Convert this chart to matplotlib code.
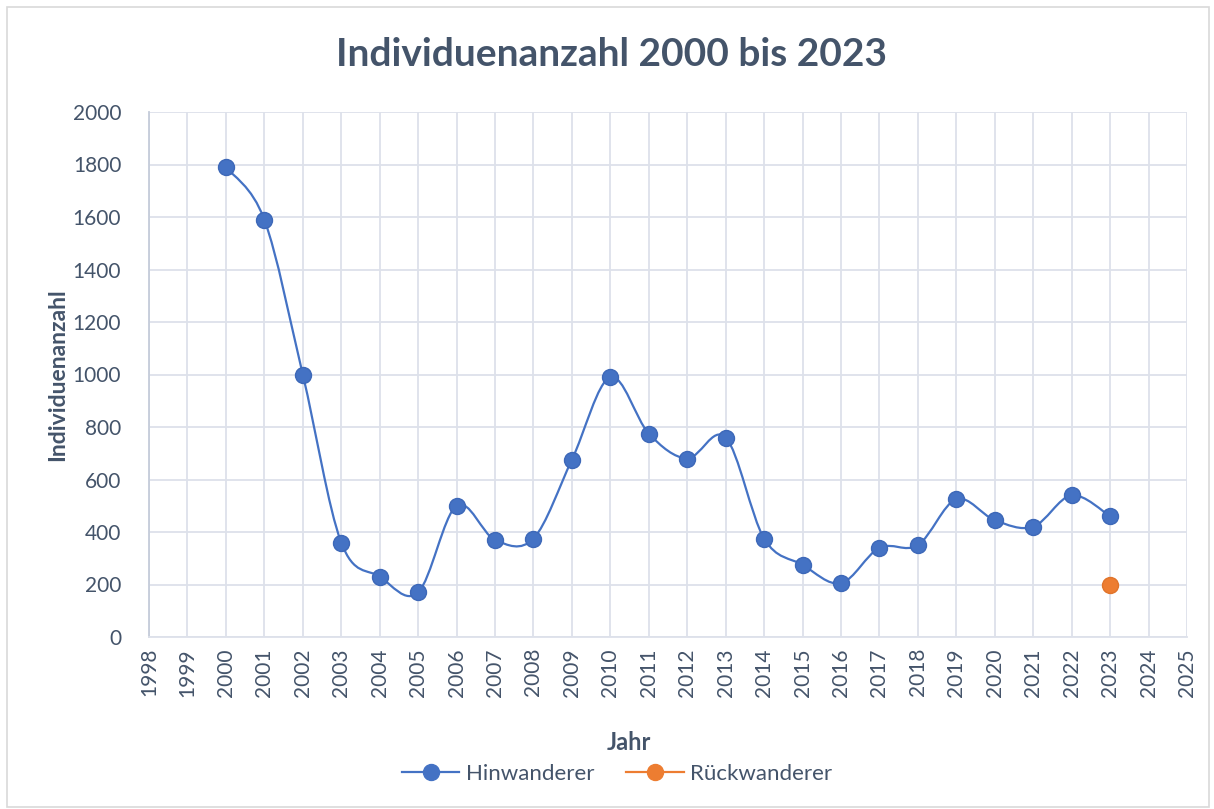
import numpy as np
import matplotlib
matplotlib.use('Agg')
import matplotlib.pyplot as plt
from matplotlib.path import Path
from matplotlib.patches import PathPatch, Rectangle
from matplotlib.lines import Line2D

plt.rcParams['font.family'] = ['Lato', 'DejaVu Sans']

# --- Daten ---
jahre = [2000, 2001, 2002, 2003, 2004, 2005, 2006, 2007, 2008, 2009, 2010, 2011,
         2012, 2013, 2014, 2015, 2016, 2017, 2018, 2019, 2020, 2021, 2022, 2023]
hinwanderer = [1790, 1590, 1000, 360, 230, 170, 500, 370, 375, 675, 990, 775,
               680, 760, 375, 275, 205, 340, 350, 525, 445, 420, 540, 460]
rueck_jahre = [2023]
rueckwanderer = [200]

text_col = '#44546A'
grid_col = '#DDE1EA'
blau = '#4472C4'
orange = '#ED7D31'


def smooth_path(x, y):
    # Excel-artige Glaettung (Catmull-Rom als Bezier-Kurven)
    x = np.asarray(x, float)
    y = np.asarray(y, float)
    n = len(x)
    verts = [(x[0], y[0])]
    codes = [Path.MOVETO]
    for i in range(n - 1):
        x0, y0 = (x[i - 1], y[i - 1]) if i > 0 else (x[i], y[i])
        x3, y3 = (x[i + 2], y[i + 2]) if i + 2 < n else (x[i + 1], y[i + 1])
        c1 = (x[i] + (x[i + 1] - x0) / 6, y[i] + (y[i + 1] - y0) / 6)
        c2 = (x[i + 1] - (x3 - x[i]) / 6, y[i + 1] - (y3 - y[i]) / 6)
        verts += [c1, c2, (x[i + 1], y[i + 1])]
        codes += [Path.CURVE4] * 3
    return Path(verts, codes)


fig = plt.figure(figsize=(12.14, 8.09), dpi=100)
ax = fig.add_axes([149 / 1214, 1 - 637 / 809, (1187 - 149) / 1214, (637 - 112) / 809])

# Rahmen der Diagrammflaeche
fig.patches.append(Rectangle((7 / 1214, 2 / 809), 1202 / 1214, 800 / 809,
                             transform=fig.transFigure, fill=False,
                             edgecolor='#D9D9D9', linewidth=1.2))

ax.add_patch(PathPatch(smooth_path(jahre, hinwanderer), fill=False,
                       edgecolor=blau, linewidth=1.6, zorder=3))
ax.plot(jahre, hinwanderer, linestyle='none', marker='o', markersize=11.5,
        color=blau, markeredgecolor='#3D68B8', zorder=4)
ax.plot(rueck_jahre, rueckwanderer, linestyle='none', marker='o', markersize=11.5,
        color=orange, markeredgecolor='#E0742B', zorder=4)

ax.set_xlim(1998, 2025)
ax.set_ylim(0, 2000)
ax.set_xticks(range(1998, 2026))
ax.set_yticks(range(0, 2001, 200))
ax.tick_params(axis='x', labelrotation=90, length=0, pad=8, labelsize=15, colors=text_col)
ax.tick_params(axis='y', length=0, pad=20, labelsize=15, colors=text_col)
ax.grid(True, color=grid_col, linewidth=1.3)
ax.set_axisbelow(True)
for s in ['top', 'right']:
    ax.spines[s].set_visible(False)
ax.spines['left'].set_color('#C5CCDA')
ax.spines['left'].set_linewidth(1.3)
ax.spines['bottom'].set_color(grid_col)
ax.spines['bottom'].set_linewidth(1.3)

fig.text(612 / 1214, 1 - 55 / 809, 'Individuenanzahl 2000 bis 2023', ha='center', va='center',
         fontsize=28, fontweight='bold', color=text_col)
fig.text(58 / 1214, 1 - 375 / 809, 'Individuenanzahl', ha='center', va='center', rotation=90,
         fontsize=16.5, fontweight='bold', color=text_col)
fig.text(629 / 1214, 1 - 743 / 809, 'Jahr', ha='center', va='center',
         fontsize=17, fontweight='bold', color=text_col)

handles = [Line2D([], [], color=blau, linewidth=1.6, marker='o', markersize=11.5),
           Line2D([], [], color=orange, linewidth=1.6, marker='o', markersize=11.5)]
fig.legend(handles, ['Hinwanderer', 'Rückwanderer'], loc='center',
           bbox_to_anchor=(617 / 1214, 1 - 774 / 809), ncol=2, frameon=False,
           fontsize=16, labelcolor=text_col, handlelength=2.6, columnspacing=1.4,
           handletextpad=0.3)

plt.savefig('out.png', dpi=100)
